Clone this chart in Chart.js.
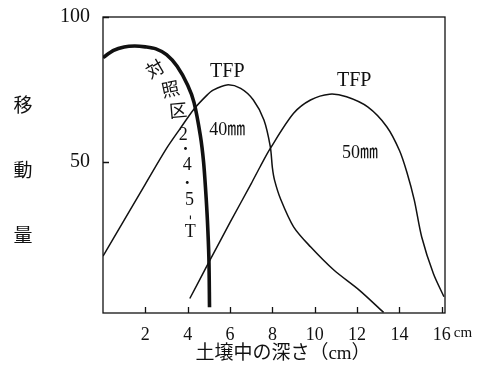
<!DOCTYPE html>
<html>
<head>
<meta charset="utf-8">
<script src="https://cdn.jsdelivr.net/npm/chart.js@4/dist/chart.umd.min.js"></script>
<style>
  html, body { margin: 0; padding: 0; background: #fff; }
  #wrap { width: 478px; height: 374px; position: relative; }
</style>
</head>
<body>
<div id="wrap"><canvas id="chart"></canvas></div>
<script>
// depth (cm) and movement values
const xTicks = [2, 4, 6, 8, 10, 12, 14, 16];
const yTicks = [50, 100];

const ctrlX = [0, 0.5, 1, 1.5, 2, 2.5, 3, 3.5, 4, 4.3, 4.6, 4.75, 4.85, 4.93, 5.0, 5.03];
const ctrlY = [86, 88.5, 89.7, 90, 89.7, 89, 87, 83, 76.5, 70.5, 59, 50, 40, 30, 17, 0];

const tfp40X = [0, 1, 2, 3, 3.65, 4.3, 4.9, 5.2, 5.85, 6.5, 7.1, 7.6, 7.9, 8.0, 8.1, 8.4, 9.0, 9.8, 10.9, 12.1, 13.25];
const tfp40Y = [17.6, 30, 42.4, 54.7, 61.6, 68.3, 73, 74.8, 76.6, 75.4, 71.4, 64.5, 55.3, 48, 43.8, 37, 27.7, 20.8, 12.8, 5.9, -1.8];

const tfp50X = [4.1, 5, 6, 7, 7.42, 7.9, 9.0, 9.8, 10.7, 11.5, 12.5, 13.4, 14.0, 14.35, 14.7, 15.05, 15.6, 16.1];
const tfp50Y = [3, 15.5, 29.2, 42.6, 48.4, 54.7, 66.8, 71.4, 73.4, 72.5, 69, 62.2, 54, 46.5, 36.9, 24.2, 11.6, 3.6];

const yLabelChars = ["移", "動", "量"];
const xTitle = "土壌中の深さ（cm）";

// text written on the plot, placed in data units
const notes = [
  { text: "TFP", x: 5.87, y: 81, size: 20 },
  { text: "40㎜", x: 5.87, y: 61, size: 18 },
  { text: "TFP", x: 11.86, y: 78, size: 20 },
  { text: "50㎜", x: 12.14, y: 53, size: 18 },
  { text: "対", x: 2.5, y: 81.5, size: 18, rot: -30 },
  { text: "照", x: 3.2, y: 74.5, size: 18, rot: -12 },
  { text: "区", x: 3.56, y: 67.2, size: 18, rot: -5 },
  { text: "2", x: 3.79, y: 59.3, size: 18 },
  { text: "・", x: 3.9, y: 54.5, size: 14 },
  { text: "4", x: 3.98, y: 49, size: 18 },
  { text: "・", x: 3.98, y: 42.8, size: 14 },
  { text: "5", x: 4.08, y: 36.9, size: 18 },
  { text: "-", x: 4.12, y: 31, size: 14, rot: 90 },
  { text: "T", x: 4.12, y: 25.9, size: 18 }
];

const FONT = '"Liberation Serif", "Noto Sans CJK JP", serif';
const INK = "#111";

const pts = (xs, ys) => xs.map((x, i) => ({ x: x, y: ys[i] }));

const figurePlugin = {
  id: "figure",
  afterDraw(chart) {
    const ctx = chart.ctx;
    const a = chart.chartArea;
    const sx = chart.scales.x;
    const sy = chart.scales.y;
    ctx.save();
    ctx.strokeStyle = INK;
    ctx.lineWidth = 1.3;
    ctx.strokeRect(a.left, a.top, a.right - a.left, a.bottom - a.top);

    // inward tick marks
    ctx.beginPath();
    xTicks.forEach(v => {
      const px = Math.round(sx.getPixelForValue(v)) + 0.5;
      ctx.moveTo(px, a.bottom);
      ctx.lineTo(px, a.bottom - 6);
    });
    yTicks.forEach(v => {
      const py = Math.round(sy.getPixelForValue(v)) + 0.5;
      ctx.moveTo(a.left, py);
      ctx.lineTo(a.left + 6, py);
    });
    ctx.stroke();

    ctx.fillStyle = INK;
    ctx.textBaseline = "middle";

    // "cm" unit after the last tick label
    ctx.font = "15px " + FONT;
    ctx.textAlign = "left";
    ctx.fillText("cm", sx.getPixelForValue(16) + 12, 333);

    // axis titles
    ctx.textAlign = "center";
    ctx.font = "19px " + FONT;
    ctx.fillText(xTitle, (a.left + a.right) / 2 + 9, 354);
    const yPos = [107, 172, 237];
    yLabelChars.forEach((c, i) => ctx.fillText(c, 23, yPos[i]));

    // annotations
    notes.forEach(n => {
      ctx.save();
      ctx.translate(sx.getPixelForValue(n.x), sy.getPixelForValue(n.y));
      if (n.rot) ctx.rotate(n.rot * Math.PI / 180);
      ctx.font = n.size + "px " + FONT;
      ctx.fillText(n.text, 0, 0);
      ctx.restore();
    });
    ctx.restore();
  }
};

new Chart(document.getElementById("chart"), {
  type: "scatter",
  data: {
    datasets: [
      { label: "対照区 2・4・5-T", data: pts(ctrlX, ctrlY), borderWidth: 3.6 },
      { label: "TFP 40mm", data: pts(tfp40X, tfp40Y), borderWidth: 1.5 },
      { label: "TFP 50mm", data: pts(tfp50X, tfp50Y), borderWidth: 1.5 }
    ].map(d => Object.assign(d, {
      showLine: true,
      borderColor: INK,
      pointRadius: 0,
      tension: 0.3
    }))
  },
  options: {
    responsive: true,
    maintainAspectRatio: false,
    animation: false,
    layout: { padding: { top: 17, right: 33, left: 0, bottom: 0 } },
    plugins: { legend: { display: false }, tooltip: { enabled: false } },
    scales: {
      x: {
        type: "linear",
        min: 0,
        max: 16.15,
        afterFit: s => { s.height = 61; },
        afterBuildTicks: s => { s.ticks = xTicks.map(v => ({ value: v })); },
        grid: { display: false },
        border: { display: false },
        ticks: { color: INK, font: { family: FONT, size: 18 }, padding: 3, maxRotation: 0 }
      },
      y: {
        type: "linear",
        min: -2,
        max: 100,
        afterFit: s => { s.width = 103; },
        afterBuildTicks: s => { s.ticks = yTicks.map(v => ({ value: v })); },
        grid: { display: false },
        border: { display: false },
        ticks: { color: INK, font: { family: FONT, size: 20 }, padding: 5 }
      }
    }
  },
  plugins: [figurePlugin]
});
</script>
</body>
</html>
